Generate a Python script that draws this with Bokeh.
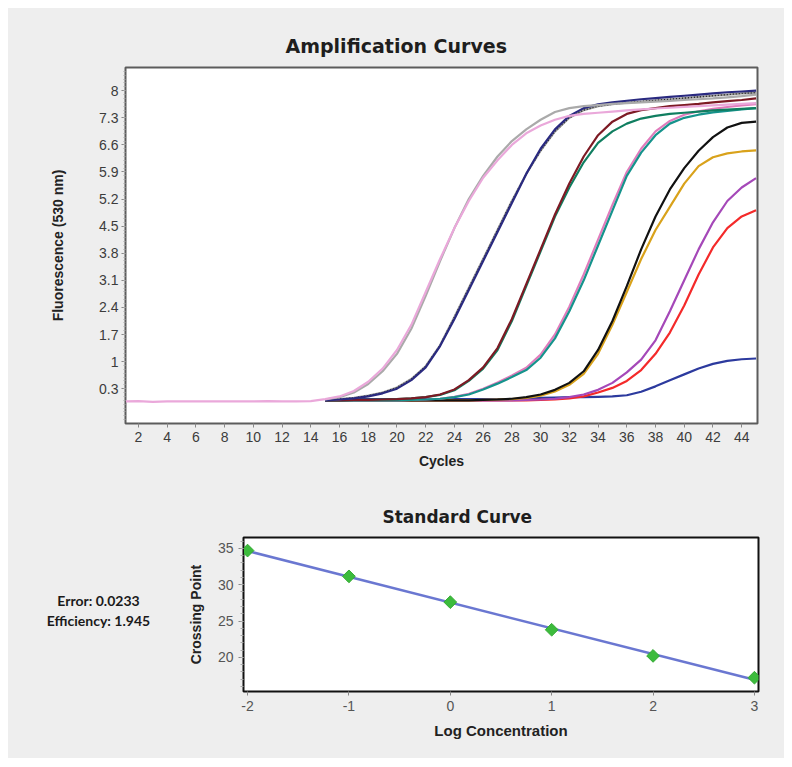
import numpy as np
from bokeh.plotting import figure
from bokeh.models import FixedTicker, Range1d
from bokeh.layouts import column, row
from bokeh.embed import file_html
from bokeh.resources import INLINE
from bokeh.core.properties import value

# ---------------- data ----------------
cycles_full = list(range(1, 46))
cycles = list(range(15, 46))

pink_light = [-0.03, -0.02, -0.04, -0.03, -0.03, -0.03, -0.03, -0.03, -0.03, -0.03, -0.02, -0.03, -0.03, -0.02,
              0.03, 0.10, 0.24, 0.48, 0.82, 1.30, 1.95, 2.80, 3.65, 4.45, 5.15, 5.75, 6.20, 6.60, 6.90, 7.10,
              7.25, 7.35, 7.40, 7.43, 7.46, 7.49, 7.52, 7.54, 7.56, 7.58, 7.60, 7.62, 7.64, 7.66, 7.68]
gray_light = [0.02, 0.08, 0.20, 0.42, 0.75, 1.20, 1.85, 2.70, 3.60, 4.45, 5.20, 5.80, 6.30, 6.70, 7.00, 7.25,
              7.45, 7.55, 7.60, 7.63, 7.66, 7.68, 7.70, 7.72, 7.74, 7.76, 7.78, 7.80, 7.83, 7.86, 7.90]
navy = [0.00, 0.02, 0.05, 0.10, 0.18, 0.30, 0.52, 0.85, 1.40, 2.10, 2.85, 3.60, 4.35, 5.10, 5.85, 6.50,
        7.00, 7.35, 7.55, 7.65, 7.70, 7.74, 7.78, 7.81, 7.84, 7.87, 7.90, 7.93, 7.96, 7.98, 8.00]
gray_dotted = [0.01, 0.03, 0.06, 0.12, 0.20, 0.33, 0.55, 0.88, 1.42, 2.15, 2.90, 3.65, 4.40, 5.15, 5.85, 6.45,
               6.95, 7.30, 7.50, 7.60, 7.65, 7.69, 7.72, 7.75, 7.78, 7.81, 7.84, 7.87, 7.90, 7.93, 7.95]
maroon = [0.00, 0.00, 0.01, 0.01, 0.02, 0.03, 0.05, 0.08, 0.15, 0.28, 0.52, 0.85, 1.35, 2.10, 3.00, 3.90,
          4.80, 5.60, 6.30, 6.85, 7.20, 7.40, 7.50, 7.55, 7.60, 7.63, 7.66, 7.70, 7.73, 7.76, 7.80]
green = [0.00, 0.00, 0.01, 0.01, 0.02, 0.03, 0.05, 0.08, 0.14, 0.26, 0.50, 0.82, 1.30, 2.05, 2.95, 3.85,
         4.75, 5.50, 6.15, 6.65, 6.95, 7.15, 7.28, 7.35, 7.40, 7.43, 7.46, 7.49, 7.51, 7.53, 7.55]
teal = [0.00, 0.00, 0.00, 0.00, 0.00, 0.00, 0.01, 0.02, 0.04, 0.08, 0.15, 0.28, 0.43, 0.60, 0.78, 1.10,
        1.60, 2.30, 3.10, 4.00, 4.90, 5.80, 6.40, 6.85, 7.15, 7.30, 7.38, 7.44, 7.48, 7.52, 7.55]
pink_mid = [0.00, 0.00, 0.00, 0.00, 0.00, 0.00, 0.01, 0.02, 0.04, 0.09, 0.17, 0.30, 0.46, 0.64, 0.84, 1.18,
            1.70, 2.42, 3.25, 4.15, 5.05, 5.90, 6.50, 6.95, 7.22, 7.38, 7.47, 7.53, 7.58, 7.62, 7.65]
black = [0.00, 0.00, 0.00, 0.00, 0.00, 0.00, 0.00, 0.00, 0.00, 0.00, 0.00, 0.01, 0.02, 0.04, 0.08, 0.15,
         0.27, 0.45, 0.75, 1.30, 2.05, 2.95, 3.90, 4.75, 5.45, 6.00, 6.45, 6.80, 7.05, 7.17, 7.20]
orange = [0.00, 0.00, 0.00, 0.00, 0.00, 0.00, 0.00, 0.00, 0.00, 0.00, 0.00, 0.01, 0.02, 0.03, 0.06, 0.12,
          0.23, 0.40, 0.68, 1.20, 1.95, 2.80, 3.65, 4.40, 5.00, 5.60, 6.05, 6.28, 6.38, 6.43, 6.46]
purple = [0.00, 0.00, 0.00, 0.00, 0.00, 0.00, 0.00, 0.00, 0.00, 0.00, 0.00, 0.00, 0.00, 0.00, 0.01, 0.02,
          0.04, 0.08, 0.15, 0.27, 0.45, 0.72, 1.05, 1.55, 2.30, 3.10, 3.90, 4.60, 5.15, 5.50, 5.74]
red = [0.00, 0.00, 0.00, 0.00, 0.00, 0.00, 0.00, 0.00, 0.00, 0.00, 0.00, 0.00, 0.00, 0.00, 0.00, 0.01,
       0.02, 0.05, 0.10, 0.20, 0.32, 0.50, 0.78, 1.20, 1.75, 2.45, 3.25, 3.95, 4.45, 4.75, 4.91]
blue_low = [0.03, 0.03, 0.03, 0.03, 0.03, 0.03, 0.03, 0.03, 0.03, 0.03, 0.03, 0.03, 0.03, 0.03, 0.03, 0.06,
            0.07, 0.08, 0.08, 0.09, 0.10, 0.13, 0.22, 0.36, 0.52, 0.67, 0.82, 0.94, 1.02, 1.06, 1.08]

fluor_ticks = [0.3, 1, 1.7, 2.4, 3.1, 3.8, 4.5, 5.2, 5.9, 6.6, 7.3, 8]
fluor_tick_labels = ["0.3", "1", "1.7", "2.4", "3.1", "3.8", "4.5", "5.2", "5.9", "6.6", "7.3", "8"]
cycle_ticks = list(range(2, 46, 2))

log_conc = [-2, -1, 0, 1, 2, 3]
crossing_point = [34.7, 31.15, 27.6, 23.8, 20.2, 17.2]
conc_ticks = [-2, -1, 0, 1, 2, 3]
conc_tick_labels = ["-2", "-1", "0", "1", "2", "3"]
cp_ticks = [20, 25, 30, 35]
stats_lines = ["Error: 0.0233", "Efficiency: 1.945"]

# ---------------- style ----------------
BG = "#eeeeee"
TICK_FONT = "Liberation Sans"
TITLE_FONT = "DejaVu Sans"

def style_axes(p, tick_color):
    p.grid.visible = False
    for ax in (p.xaxis[0], p.yaxis[0]):
        ax.major_label_text_font = TICK_FONT
        ax.major_label_text_font_size = "14px"
        ax.major_label_text_color = tick_color
        ax.axis_label_text_font = TICK_FONT
        ax.axis_label_text_font_style = "bold"
        ax.axis_label_text_color = "#222222"
        ax.major_tick_in = 0
        ax.minor_tick_in = 0
        ax.major_tick_line_color = "#888888"
        ax.minor_tick_line_color = "#aaaaaa"

def style_title(p, text, size, offset):
    p.title.text = text
    p.title.align = "left"
    p.title.offset = offset
    p.title.text_font = TITLE_FONT
    p.title.text_font_style = "bold"
    p.title.text_font_size = size
    p.title.text_color = "#1e1e1e"
    p.title.standoff = 21

# ---------------- amplification curves ----------------
p1 = figure(width=776, height=472, x_range=Range1d(1.1, 45.1), y_range=Range1d(-0.6, 8.6),
            output_backend="svg", toolbar_location=None,
            min_border_left=117, min_border_right=27, min_border_top=59, min_border_bottom=57,
            background_fill_color="white", border_fill_color=BG)
p1.outline_line_color = "#5c5c5c"
p1.outline_line_width = 2
style_axes(p1, "#3c3c3c")
style_title(p1, "Amplification Curves", "19px", 160)

p1.xaxis.ticker = FixedTicker(ticks=cycle_ticks)
p1.yaxis.ticker = FixedTicker(ticks=fluor_ticks, minor_ticks=list(np.round(np.arange(-0.5, 8.6, 0.1), 2)))
p1.yaxis.major_label_overrides = {t: l for t, l in zip(fluor_ticks, fluor_tick_labels)}
p1.xaxis.axis_label = "Cycles"
p1.yaxis.axis_label = "Fluorescence (530 nm)"
p1.xaxis.axis_label_text_font_size = "14px"
p1.yaxis.axis_label_text_font_size = "14px"
p1.xaxis.axis_line_color = "#5c5c5c"
p1.yaxis.axis_line_color = "#5c5c5c"
p1.xaxis.major_tick_out = 4
p1.yaxis.major_tick_out = 4
p1.yaxis.minor_tick_out = 2
p1.xaxis.minor_tick_out = 0
p1.xaxis.major_label_standoff = 4
p1.yaxis.major_label_standoff = 3
p1.xaxis.axis_label_standoff = 8
p1.yaxis.axis_label_standoff = 30

LW = 2.2
p1.line(cycles, blue_low, line_color="#2c3a9e", line_width=LW)
p1.line(cycles, red, line_color="#f42a2a", line_width=LW)
p1.line(cycles, purple, line_color="#a548b8", line_width=LW)
p1.line(cycles, orange, line_color="#d9a21b", line_width=LW)
p1.line(cycles, black, line_color="#111111", line_width=LW)
p1.line(cycles, pink_mid, line_color="#e07cbc", line_width=LW)
p1.line(cycles, teal, line_color="#16938c", line_width=LW)
p1.line(cycles, green, line_color="#107e60", line_width=LW)
p1.line(cycles, maroon, line_color="#7d1a24", line_width=LW)
p1.line(cycles, gray_dotted, line_color="#9a9a9a", line_width=LW)
p1.line(cycles, gray_dotted, line_color="#222222", line_width=1.4, line_dash="1 2")
p1.line(cycles, navy, line_color="#2a2a80", line_width=LW)
p1.line(cycles, gray_light, line_color="#aaaaaa", line_width=LW)
p1.line(cycles_full, pink_light, line_color="#eaa8da", line_width=LW)

# ---------------- stats text panel ----------------
pt = figure(width=175, height=278, x_range=Range1d(0, 175), y_range=Range1d(0, 154),
            output_backend="svg", toolbar_location=None,
            min_border_left=0, min_border_right=0, min_border_top=57, min_border_bottom=67,
            background_fill_color=BG, border_fill_color=BG)
pt.outline_line_color = None
pt.axis.visible = False
pt.grid.visible = False
pt.text(x=[90, 90], y=[91, 71], text=stats_lines, text_align="center", text_baseline="alphabetic",
        text_font=value("Lato"), text_font_style="bold", text_font_size="14px",
        text_color="#1a1a1a")

# ---------------- standard curve ----------------
p2 = figure(width=601, height=278, x_range=Range1d(-2.04, 3.04), y_range=Range1d(15.3, 36.5),
            output_backend="svg", toolbar_location=None,
            min_border_left=60, min_border_right=26, min_border_top=57, min_border_bottom=67,
            background_fill_color="white", border_fill_color=BG)
p2.outline_line_color = "#111111"
p2.outline_line_width = 2
style_axes(p2, "#555555")
style_title(p2, "Standard Curve", "17px", 139)
p2.xaxis.ticker = FixedTicker(ticks=conc_ticks)
p2.xaxis.major_label_overrides = {t: l for t, l in zip(conc_ticks, conc_tick_labels)}
p2.yaxis.ticker = FixedTicker(ticks=cp_ticks, minor_ticks=list(range(16, 37)))
p2.xaxis.axis_label = "Log Concentration"
p2.yaxis.axis_label = "Crossing Point"
p2.xaxis.axis_label_text_font_size = "15px"
p2.yaxis.axis_label_text_font_size = "14px"
p2.xaxis.axis_line_color = "#111111"
p2.yaxis.axis_line_color = "#111111"
p2.xaxis.major_tick_out = 4
p2.yaxis.major_tick_out = 5
p2.yaxis.minor_tick_out = 3
p2.xaxis.minor_tick_out = 0
p2.xaxis.major_label_standoff = 5
p2.yaxis.major_label_standoff = 5
p2.xaxis.axis_label_standoff = 8
p2.yaxis.axis_label_standoff = 11

slope, intercept = np.polyfit(log_conc, crossing_point, 1)
fit_x = [min(log_conc), max(log_conc)]
fit_y = [slope * v + intercept for v in fit_x]
p2.line(fit_x, fit_y, line_color="#5a68cc", line_width=2.5, line_alpha=0.9)
p2.scatter(log_conc, crossing_point, marker="square", angle=0.785, size=9,
           fill_color="#3cbb3c", line_color="#33aa33")

bottom = row(pt, p2, spacing=0, styles={"background-color": BG})
layout = column(p1, bottom, spacing=0, margin=(8, 8, 8, 8), styles={"background-color": BG})
open("out.html", "w").write(file_html(layout, INLINE))
